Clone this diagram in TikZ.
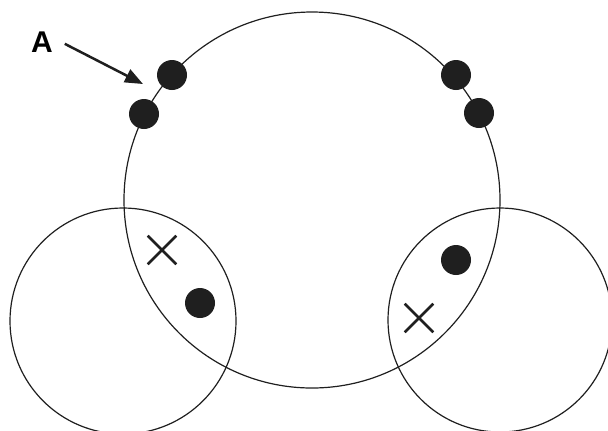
\documentclass[tikz,border=0pt]{standalone}
\usepackage{fontspec}
\setmainfont{Liberation Sans}
\usetikzlibrary{shapes.misc,arrows.meta}

\tikzset{
  dot/.style={circle, fill=black!88, minimum size=15pt, inner sep=0pt},
  xmark/.style={cross out, draw=black!88, line width=1.3pt, minimum size=13pt, inner sep=0pt},
  ring/.style={draw=black!88, line width=0.6pt}
}

\begin{document}
\begin{tikzpicture}[x=0.5pt, y=-0.5pt]
\useasboundingbox (0,0) rectangle (608,430);
\clip (0,0) rectangle (608,430);

% the three circles
\coordinate (big) at (312,200);
\coordinate (left) at (123,321);
\coordinate (right) at (500,320);
\draw[ring] (big) circle[radius=188];
\draw[ring] (left) circle[radius=113];
\draw[ring] (right) circle[radius=112];

% dots on the big circle
\node[dot] (d1) at (172,75) {};
\node[dot] (d2) at (144,114) {};
\node[dot] (d3) at (456,75) {};
\node[dot] (d4) at (479,113) {};

% inside the overlaps
\node[xmark] (x1) at (162,250) {};
\node[dot] (d5) at (200,303) {};
\node[dot] (d6) at (456,260) {};
\node[xmark] (x2) at (419,318) {};

% label
\node[font=\bfseries\fontsize{15}{15}\selectfont, inner sep=4pt] (A) at (42,42) {A};
\coordinate (tip) at (143,84);
\draw[draw=black!88, line width=1.25pt, -{Triangle[length=9pt,width=7pt]}, shorten <=2pt] (A.east) -- (tip);
\end{tikzpicture}
\end{document}
